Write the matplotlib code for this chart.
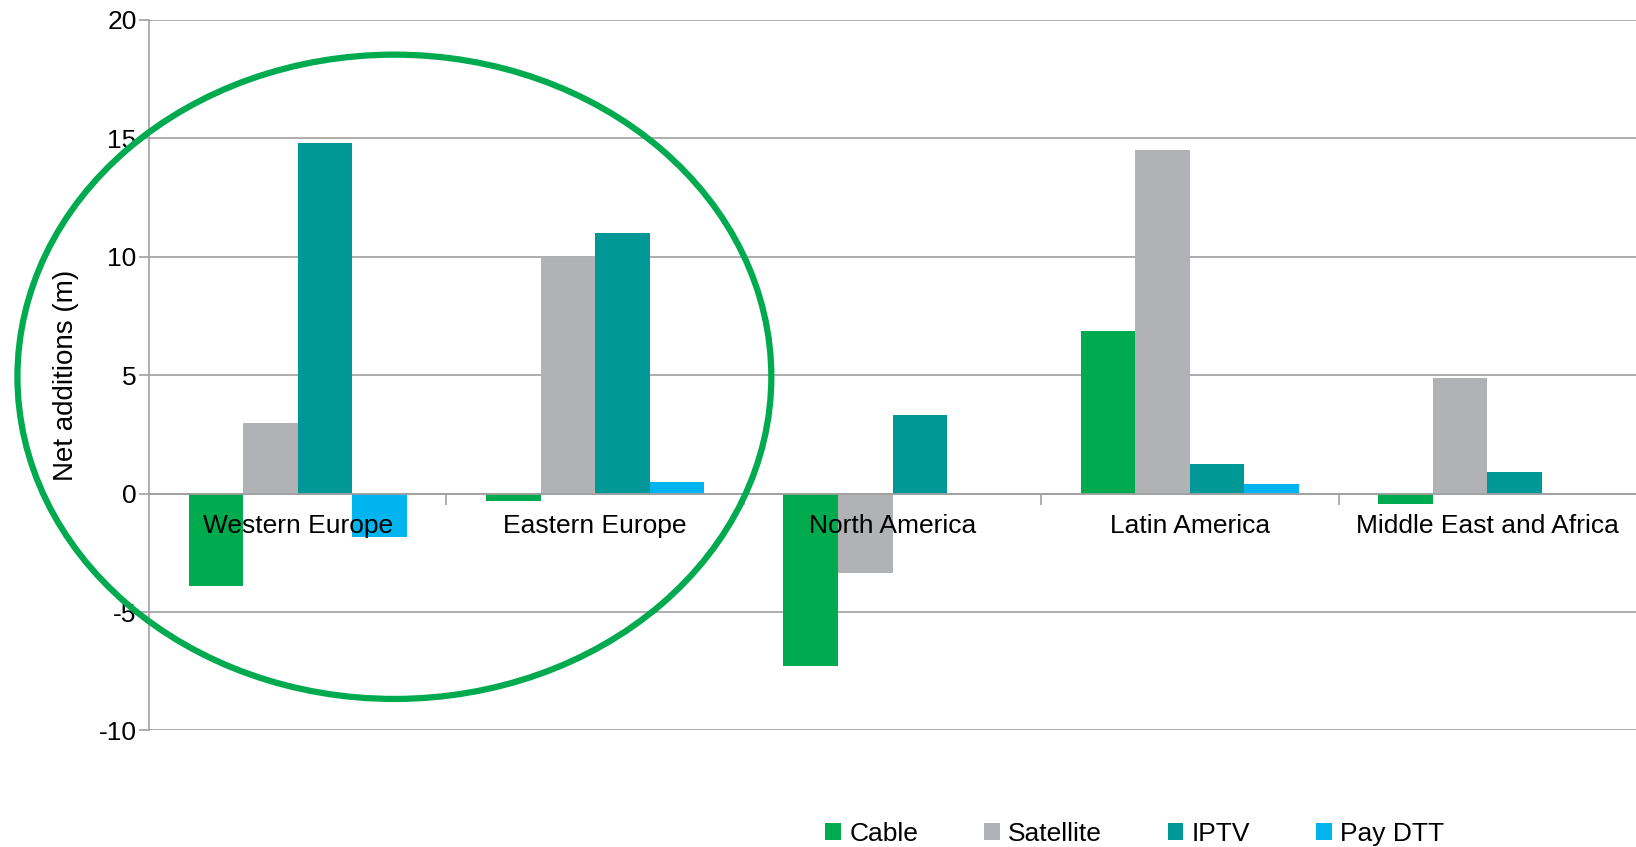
import matplotlib
matplotlib.use("Agg")
import matplotlib.pyplot as plt
from matplotlib.patches import Ellipse
import numpy as np

plt.rcParams['font.family'] = ['Liberation Sans', 'DejaVu Sans']

regions = ["Western Europe", "Eastern Europe", "North America",
           "Latin America", "Middle East and Africa"]
series = ["Cable", "Satellite", "IPTV", "Pay DTT"]
cable = [-3.9, -0.3, -7.3, 6.85, -0.45]
satellite = [3.0, 10.0, -3.35, 14.5, 4.9]
iptv = [14.8, 11.0, 3.3, 1.25, 0.9]
pay_dtt = [-1.85, 0.5, 0.0, 0.4, 0.0]
colors = ["#00aa4f", "#b1b2b5", "#009797", "#00b5ef"]
yticks = [-10, -5, 0, 5, 10, 15, 20]

values = [cable, satellite, iptv, pay_dtt]
FS = 19

fig = plt.figure(figsize=(16.36, 8.47), dpi=100)
ax = fig.add_axes([0.0911, 0.1376, 0.9089, 0.839])

x = np.arange(len(regions))
bw = 0.1835
for i, (name, vals, c) in enumerate(zip(series, values, colors)):
    ax.bar(x + (i - 1.5) * bw, vals, width=bw, color=c, label=name, zorder=3)

ax.set_xlim(-0.5, len(regions) - 0.5)
ax.set_ylim(-10, 20)
ax.set_yticks(yticks)
ax.set_yticklabels([str(t) for t in yticks], fontsize=FS)
ax.yaxis.grid(True, color="#a0a0a0", linewidth=1.2, zorder=0)
ax.set_axisbelow(True)

for s in ("top", "right"):
    ax.spines[s].set_visible(False)
ax.spines["left"].set_color("#a0a0a0")
ax.spines["left"].set_linewidth(1.2)
ax.spines["bottom"].set_position(("data", 0))
ax.spines["bottom"].set_color("#a0a0a0")
ax.spines["bottom"].set_linewidth(1.2)
ax.spines["bottom"].set_zorder(4)

ax.tick_params(axis="y", length=7, color="#a0a0a0", width=1.2, pad=2)
ax.set_xticks(x)
ax.set_xticklabels(regions, fontsize=FS)
ax.tick_params(axis="x", which="major", length=0, pad=15)
ax.set_xticks(np.arange(0.5, len(regions) - 0.5, 1.0), minor=True)
ax.tick_params(axis="x", which="minor", length=8, color="#a0a0a0", width=1.2)
# region names sit on top of the bars
ax.xaxis.set_zorder(5)

ax.set_ylabel("Net additions (m)", fontsize=20)
ax.yaxis.set_label_coords(-0.047, 0.5)

# highlight ring around the European regions
ring = Ellipse((0.325, 4.93), width=2.535, height=27.2, fill=False,
               edgecolor="#00aa4f", linewidth=4.5, zorder=6, clip_on=False)
ax.add_patch(ring)

fig.legend(loc="center", bbox_to_anchor=(0.6935, 0.0155), ncol=4,
           frameon=False, fontsize=FS, handlelength=0.6, handleheight=0.6,
           handletextpad=0.3, columnspacing=2.5)

fig.savefig("out.png", dpi=100)
